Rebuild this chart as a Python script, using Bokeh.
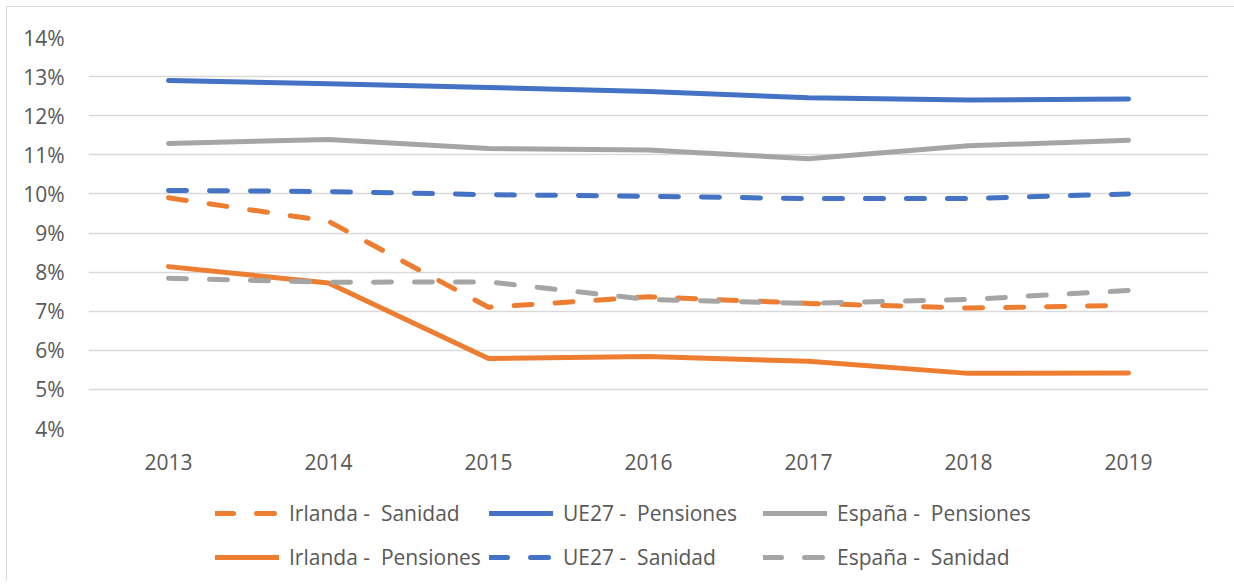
from bokeh.plotting import figure
from bokeh.layouts import column
from bokeh.models import (Range1d, FactorRange, SingleIntervalTicker, PrintfTickFormatter,
                          Legend, LegendItem)
from bokeh.embed import file_html
from bokeh.resources import INLINE

years = ["2013", "2014", "2015", "2016", "2017", "2018", "2019"]

irlanda_sanidad = [9.90, 9.30, 7.10, 7.37, 7.20, 7.08, 7.15]
ue27_pensiones = [12.90, 12.82, 12.72, 12.62, 12.46, 12.40, 12.43]
espana_pensiones = [11.29, 11.39, 11.16, 11.12, 10.90, 11.23, 11.37]
irlanda_pensiones = [8.14, 7.72, 5.79, 5.84, 5.72, 5.41, 5.42]
ue27_sanidad = [10.09, 10.06, 9.98, 9.94, 9.88, 9.88, 10.00]
espana_sanidad = [7.84, 7.74, 7.75, 7.30, 7.20, 7.30, 7.53]

series = [
    ("Irlanda -  Sanidad", irlanda_sanidad, "#ED7D31", "dashed"),
    ("UE27 -  Pensiones", ue27_pensiones, "#4472C4", "solid"),
    ("España -  Pensiones", espana_pensiones, "#A5A5A5", "solid"),
    ("Irlanda -  Pensiones", irlanda_pensiones, "#ED7D31", "solid"),
    ("UE27 -  Sanidad", ue27_sanidad, "#4472C4", "dashed"),
    ("España -  Sanidad", espana_sanidad, "#A5A5A5", "dashed"),
]

FONT = "Open Sans"
TXT = "#595959"
FS = "21px"

p = figure(width=1227, height=473, x_range=FactorRange(factors=years, range_padding=0),
           y_range=Range1d(4, 14), output_backend="svg", toolbar_location=None,
           min_border_left=81, min_border_right=26, min_border_top=30, min_border_bottom=52)
p.outline_line_color = None
p.background_fill_color = "white"
p.border_fill_color = "white"

p.xgrid.grid_line_color = None
p.ygrid.grid_line_color = "#D9D9D9"
p.ygrid.grid_line_width = 1.3

p.yaxis.ticker = SingleIntervalTicker(interval=1)
p.yaxis.formatter = PrintfTickFormatter(format="%d%%")
for ax in (p.xaxis[0], p.yaxis[0]):
    ax.axis_line_color = None
    ax.major_tick_line_color = None
    ax.minor_tick_line_color = None
    ax.major_label_text_font = FONT
    ax.major_label_text_font_size = FS
    ax.major_label_text_color = TXT
p.yaxis.major_label_standoff = 18
p.xaxis.major_label_standoff = 19

# legend-only figure: same series, drawn outside its visible range so only the legend shows
q = figure(width=1227, height=101, x_range=FactorRange(factors=years, range_padding=0),
           y_range=Range1d(100, 101), output_backend="svg", toolbar_location=None,
           min_border_left=0, min_border_right=0, min_border_top=0, min_border_bottom=0)
q.outline_line_color = None
q.axis.visible = False
q.grid.grid_line_color = None
q.background_fill_color = "white"
q.border_fill_color = "white"

items = []
for name, vals, color, dash in series:
    dash_str = "18 23" if dash == "dashed" else "solid"
    kw = dict(line_color=color, line_width=5, line_dash=dash_str,
              line_cap="round", line_join="round")
    p.line(x=years, y=vals, **kw)
    r = q.line(x=years, y=vals, **kw)
    items.append(LegendItem(label=name, renderers=[r]))

legend = Legend(items=items, orientation="horizontal", ncols=3, location=(127, 2))
legend.glyph_width = 64
legend.glyph_height = 44
legend.label_height = 44
legend.label_width = 200
legend.label_standoff = 10
legend.spacing = 0
legend.padding = 0
legend.margin = 0
legend.border_line_color = None
legend.background_fill_alpha = 0
legend.label_text_font = FONT
legend.label_text_font_size = FS
legend.label_text_color = TXT
q.add_layout(legend, "center")

layout = column(p, q, spacing=0)
layout.styles = {"border-left": "1px solid #D9D9D9", "border-top": "1px solid #D9D9D9",
                 "margin-left": "6px", "margin-top": "6px"}

open("out.html", "w").write(file_html(layout, INLINE))
